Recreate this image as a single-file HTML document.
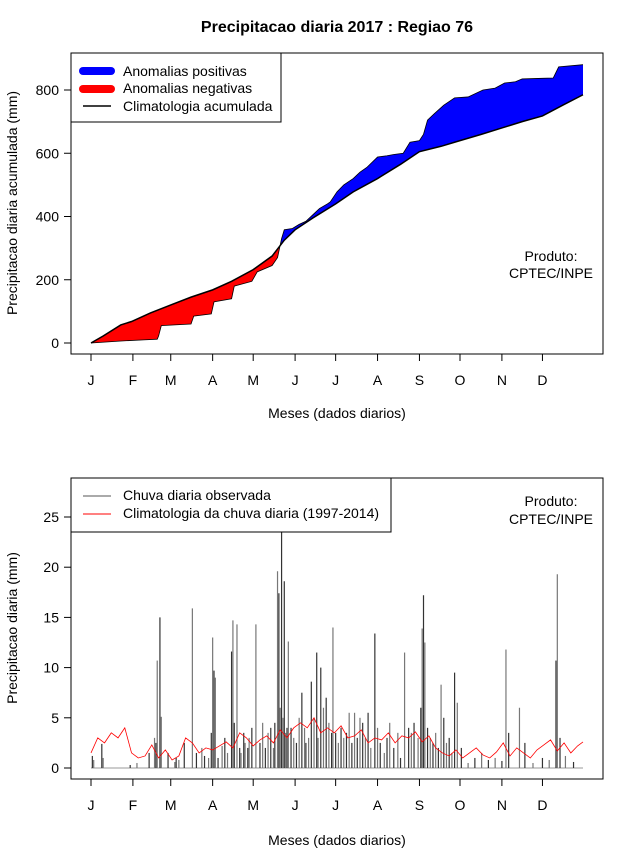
<!DOCTYPE html>
<html><head><meta charset="utf-8"><style>
body{margin:0;background:#fff}
svg{display:block;font-family:"Liberation Sans",sans-serif}
</style></head><body>
<svg id="c" width="640" height="850" viewBox="0 0 640 850">
<text x="337" y="32" font-size="16" font-weight="bold" text-anchor="middle">Precipitacao diaria 2017 : Regiao 76</text>
<g id="topPanel"></g>
<g id="botPanel"></g>
</svg>
<script>
// ---- data ----
const months = ["J","F","M","A","M","J","J","A","S","O","N","D"];
const monthStartDays = [1,32,60,91,121,152,182,213,244,274,305,335];
const topTicks = [0,200,400,600,800];
const botTicks = [0,5,10,15,20,25];
// cumulative observed [day, mm]
const obsCumDays = [1,22,40,50,51,53,75,77,90,92,105,107,120,124,135,139,142,144,150,155,160,165,170,176,178,183,188,195,200,205,213,220,225,232,237,244,247,250,255,262,270,280,291,300,307,315,320,335,343,347,365];
const obsCumVals = [0,6,10,12,22,55,60,85,92,130,140,180,195,225,245,270,330,358,362,375,385,405,425,440,446,478,500,520,540,555,588,592,596,600,635,640,660,705,725,752,775,778,800,806,822,826,835,837,838,873,880];
// cumulative climatology [day, mm]
const climCumDays = [1,10,23,31,45,61,75,91,105,121,135,144,152,165,182,195,213,230,244,260,274,290,305,320,335,350,365];
const climCumVals = [0,22,57,68,95,122,145,168,195,232,275,325,358,395,440,478,520,565,605,622,640,660,680,700,718,752,785];
// daily observed rain [day, mm]
const rainDays = [2,3,9,10,30,35,44,48,49,50,52,53,58,63,64,66,70,76,79,83,85,88,90,91,92,93,95,98,100,102,105,106,107,109,111,112,114,115,117,118,120,123,126,128,130,132,134,136,137,139,140,141,142,143,144,145,146,147,149,151,153,155,157,159,160,162,164,166,168,169,171,173,175,177,179,180,182,184,186,188,190,192,194,196,198,200,202,204,206,208,211,213,215,218,220,222,225,228,230,233,236,238,240,243,245,246,247,248,250,252,254,256,258,260,262,264,266,268,270,272,275,280,285,290,295,300,305,308,310,318,322,328,335,340,345,346,348,352,358];
const rainVals = [1.2,0.8,2.4,1.0,0.3,0.5,1.5,3.0,2.5,10.7,15.0,5.1,1.5,0.6,1.0,0.8,2.5,15.9,1.5,2.0,1.2,1.0,3.5,13.0,9.7,9.0,1.0,2.2,3.0,1.5,11.6,14.7,4.5,14.3,2.0,1.5,3.5,2.5,2.0,3.0,4.0,14.3,2.5,4.5,2.0,3.5,4.0,2.0,4.5,19.6,17.4,6.0,24.0,5.0,18.6,3.5,4.0,12.6,4.0,3.0,2.5,5.0,7.5,4.0,2.5,3.0,8.6,5.0,11.5,3.0,10.0,6.0,7.0,4.5,3.5,14.0,3.5,2.5,4.0,3.0,3.5,5.5,2.5,5.5,3.0,5.0,4.5,3.0,5.5,2.0,13.4,4.0,2.5,1.5,3.0,4.5,2.0,3.5,1.0,11.5,4.0,3.5,4.5,3.0,6.0,13.9,17.2,12.5,4.0,3.0,2.5,3.5,2.0,8.3,5.0,2.5,3.0,1.5,9.5,6.5,2.0,0.5,1.0,1.5,0.8,1.0,0.7,11.8,3.5,6.0,2.5,0.5,1.0,0.8,10.7,19.3,3.0,1.2,0.6];
// daily climatology (every 5 days, starting day 1)
const climDailyVals = [1.5,3.0,2.5,3.5,3.0,4.0,1.5,1.0,1.2,2.3,1.0,1.8,0.8,1.2,3.0,2.5,1.5,2.0,1.8,2.2,2.6,2.0,3.5,3.0,2.2,2.8,3.2,2.5,3.8,3.0,4.0,4.5,4.0,5.0,3.5,4.0,3.5,4.2,3.0,3.2,3.8,2.5,3.0,2.8,3.5,2.5,3.2,3.0,3.6,2.6,3.2,2.0,1.5,1.2,1.8,1.0,1.5,2.0,1.3,1.0,1.6,2.5,1.2,2.0,1.5,1.0,1.8,2.3,2.8,1.7,2.5,1.5,2.2,2.6];

const NS="http://www.w3.org/2000/svg";
function mk(parent,tag,attrs){const e=document.createElementNS(NS,tag);for(const k in attrs)e.setAttribute(k,attrs[k]);parent.appendChild(e);return e;}
function txt(parent,x,y,s,size,anchor,extra){const e=mk(parent,"text",Object.assign({x:x,y:y,"font-size":size,"text-anchor":anchor||"middle"},extra||{}));e.textContent=s;return e;}
const xd=d=>91+(d-1)*(583-91)/364;

// ---- top panel ----
const topG=document.getElementById("topPanel");
const yT=v=>343-v*(343-90)/800;
function pts(ds,vs,f){return ds.map((d,i)=>xd(d).toFixed(2)+","+f(vs[i]).toFixed(2));}
const obsP=pts(obsCumDays,obsCumVals,yT), climP=pts(climCumDays,climCumVals,yT);
const defs=mk(topG,"defs",{});
const cpA=mk(defs,"clipPath",{id:"above"});
mk(cpA,"polygon",{points:climP.join(" ")+" 620,"+yT(climCumVals[climCumVals.length-1])+" 620,0 "+xd(1)+",0"});
const cpB=mk(defs,"clipPath",{id:"below"});
mk(cpB,"polygon",{points:climP.join(" ")+" 620,"+yT(climCumVals[climCumVals.length-1])+" 620,400 "+xd(1)+",400"});
const band=obsP.join(" ")+" "+climP.slice().reverse().join(" ");
const pos=mk(topG,"polygon",{points:band,fill:"#0000ff","clip-path":"url(#above)"});


const neg=mk(topG,"polygon",{points:band,fill:"#ff0000","clip-path":"url(#below)"});


const ol=mk(topG,"polyline",{points:obsP.join(" "),fill:"none",stroke:"#000","stroke-width":0.8});


const cl=mk(topG,"polyline",{points:climP.join(" "),fill:"none",stroke:"#000","stroke-width":1.5});


const box1=mk(topG,"rect",{x:71,y:53,width:532,height:301,fill:"none",stroke:"#000"});


topTicks.forEach(v=>{mk(topG,"line",{x1:64,x2:71,y1:yT(v),y2:yT(v),stroke:"#000"});const e=txt(topG,59,yT(v)+5,String(v),14,"end");
 
 });
function xAxis(g,y0){mk(g,"line",{x1:xd(1),x2:xd(335),y1:y0,y2:y0,stroke:"#000"});
 months.forEach((m,i)=>{const x=xd(monthStartDays[i]);mk(g,"line",{x1:x,x2:x,y1:y0,y2:y0+7,stroke:"#000"});const e=txt(g,x,y0+31,m,14);
 
 });}
xAxis(topG,354);
let lab=txt(topG,337,418,"Meses (dados diarios)",14);


lab=txt(topG,0,0,"Precipitacao diaria acumulada (mm)",14,"middle",{transform:"translate(17,203) rotate(-90)"});


lab=txt(topG,551,261,"Produto:",14);


lab=txt(topG,551,278,"CPTEC/INPE",14);


const lg=mk(topG,"g",{});


mk(lg,"rect",{x:71,y:53,width:210,height:69,fill:"#fff",stroke:"#000"});
mk(lg,"line",{x1:83,x2:111,y1:71,y2:71,stroke:"#0000ff","stroke-width":8,"stroke-linecap":"round"});
mk(lg,"line",{x1:83,x2:111,y1:89,y2:89,stroke:"#ff0000","stroke-width":8,"stroke-linecap":"round"});
mk(lg,"line",{x1:83,x2:111,y1:106,y2:106,stroke:"#000","stroke-width":1.5});
txt(lg,123,76,"Anomalias positivas",14,"start");txt(lg,123,93,"Anomalias negativas",14,"start");txt(lg,123,111,"Climatologia acumulada",14,"start");

// ---- bottom panel ----
const botG=document.getElementById("botPanel");
const yB=v=>768-v*(768-517)/25;
mk(botG,"line",{x1:xd(1),x2:xd(365),y1:768,y2:768,stroke:"#999","stroke-width":1});
rainDays.forEach((d,i)=>{const v=Math.min(rainVals[i],25.9);const b=mk(botG,"line",{x1:xd(d),x2:xd(d),y1:768,y2:yB(v),stroke:i%2?"#777":"#333","stroke-width":1.2});
 
 });
const cdp=climDailyVals.map((v,i)=>xd(Math.min(1+i*5,365)).toFixed(2)+","+yB(v).toFixed(2));
const rl=mk(botG,"polyline",{points:cdp.join(" "),fill:"none",stroke:"#ff0000","stroke-width":0.8});


const box2=mk(botG,"rect",{x:71,y:478,width:532,height:301,fill:"none",stroke:"#000"});


botTicks.forEach(v=>{mk(botG,"line",{x1:64,x2:71,y1:yB(v),y2:yB(v),stroke:"#000"});const e=txt(botG,59,yB(v)+5,String(v),14,"end");
 
 });
xAxis(botG,779);
lab=txt(botG,337,845,"Meses (dados diarios)",14);


lab=txt(botG,0,0,"Precipitacao diaria (mm)",14,"middle",{transform:"translate(17,628) rotate(-90)"});


lab=txt(botG,551,506,"Produto:",14);


lab=txt(botG,551,524,"CPTEC/INPE",14);


const lg2=mk(botG,"g",{});


mk(lg2,"rect",{x:71,y:478,width:320,height:54,fill:"#fff",stroke:"#000"});
mk(lg2,"line",{x1:83,x2:111,y1:496,y2:496,stroke:"#555"});
mk(lg2,"line",{x1:83,x2:111,y1:514,y2:514,stroke:"#ff0000"});
txt(lg2,123,500,"Chuva diaria observada",14,"start");txt(lg2,123,518,"Climatologia da chuva diaria (1997-2014)",14,"start");
</script>
</body></html>
